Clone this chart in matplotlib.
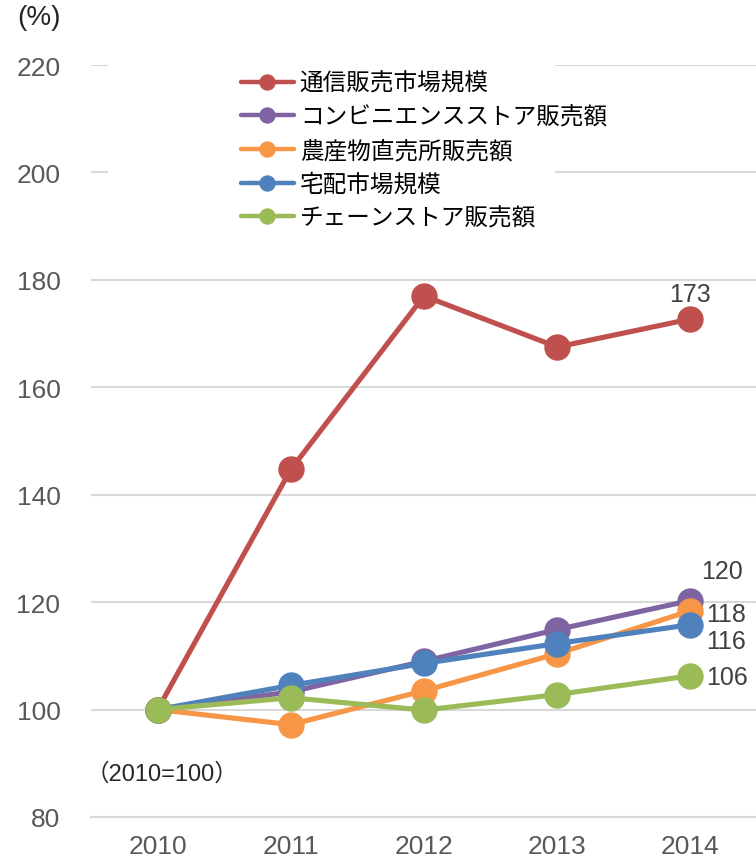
import matplotlib.pyplot as plt
from matplotlib.patches import Rectangle

plt.rcParams['font.family'] = ['Liberation Sans', 'Noto Sans CJK JP']

years = ['2010', '2011', '2012', '2013', '2014']
series_names = ['通信販売市場規模', 'コンビニエンスストア販売額', '農産物直売所販売額',
                '宅配市場規模', 'チェーンストア販売額']
tsuhan = [100, 144.7, 177.0, 167.5, 172.7]
konbini = [100, 103.3, 109.0, 114.9, 120.3]
chokubai = [100, 97.2, 103.5, 110.4, 118.4]
takuhai = [100, 104.5, 108.6, 112.3, 115.8]
chain = [100, 102.2, 99.9, 102.8, 106.3]
end_labels = ['173', '120', '118', '116', '106']

colors = ['#C0504D', '#8064A2', '#F79646', '#4F81BD', '#9BBB59']
# label offsets (pixels) from the last point of each series
label_offsets = [(0, 25, 'center'), (32, 30, 'center'), (16, -3, 'left'),
                 (16, -16, 'left'), (16, -1, 'left')]

fig = plt.figure(figsize=(7.56, 8.62), dpi=100)
ax = fig.add_axes([91 / 756, 44 / 862, 666 / 756, 752 / 862])

x = list(range(len(years)))
all_series = [tsuhan, konbini, chokubai, takuhai, chain]
for i, (vals, name, c) in enumerate(zip(all_series, series_names, colors)):
    ax.plot(x, vals, color=c, lw=3.7, marker='o', ms=18, label=name,
            zorder=3 + i, solid_capstyle='round')
    dx, dy, ha = label_offsets[i]
    ax.annotate(end_labels[i], (x[-1], vals[-1]), xytext=(dx, dy),
                textcoords='offset pixels', ha=ha, va='center',
                fontsize=18, color='#404040', zorder=10)

ax.set_xlim(-0.5, 4.5)
ax.set_ylim(80, 220)
ax.set_yticks(range(80, 221, 20))
ax.set_xticks(x)
ax.set_xticklabels(years)
ax.tick_params(axis='both', length=0, labelsize=19, labelcolor='#595959')
ax.tick_params(axis='y', pad=22)
ax.tick_params(axis='x', pad=12)
ax.grid(axis='y', color='#D9D9D9', lw=1.5, zorder=0)
ax.set_axisbelow(True)
for s in ['top', 'right', 'left']:
    ax.spines[s].set_visible(False)
ax.spines['bottom'].set_color('#D9D9D9')
ax.spines['bottom'].set_linewidth(1.5)

# white area behind the legend
ax.add_patch(Rectangle((17 / 666, 1 - 180 / 752), 447 / 666, 180 / 752,
                       transform=ax.transAxes, facecolor='white',
                       edgecolor='none', zorder=1))

leg = ax.legend(loc='upper left', bbox_to_anchor=(0.2, 1.012), frameon=False,
                fontsize=17, handlelength=2.25, handletextpad=0.25,
                labelspacing=0.47, markerscale=0.6, borderpad=0.2)
for h in leg.legend_handles:
    h.set_linewidth(3.2)

fig.text(17 / 756, 1 - 18 / 862, '(%)', fontsize=20, color='#262626',
         va='center', ha='left')
fig.text(86 / 756, 1 - 775 / 862, '（2010=100）', fontsize=17,
         color='#262626', va='center', ha='left')

fig.savefig('out.png', dpi=100)
